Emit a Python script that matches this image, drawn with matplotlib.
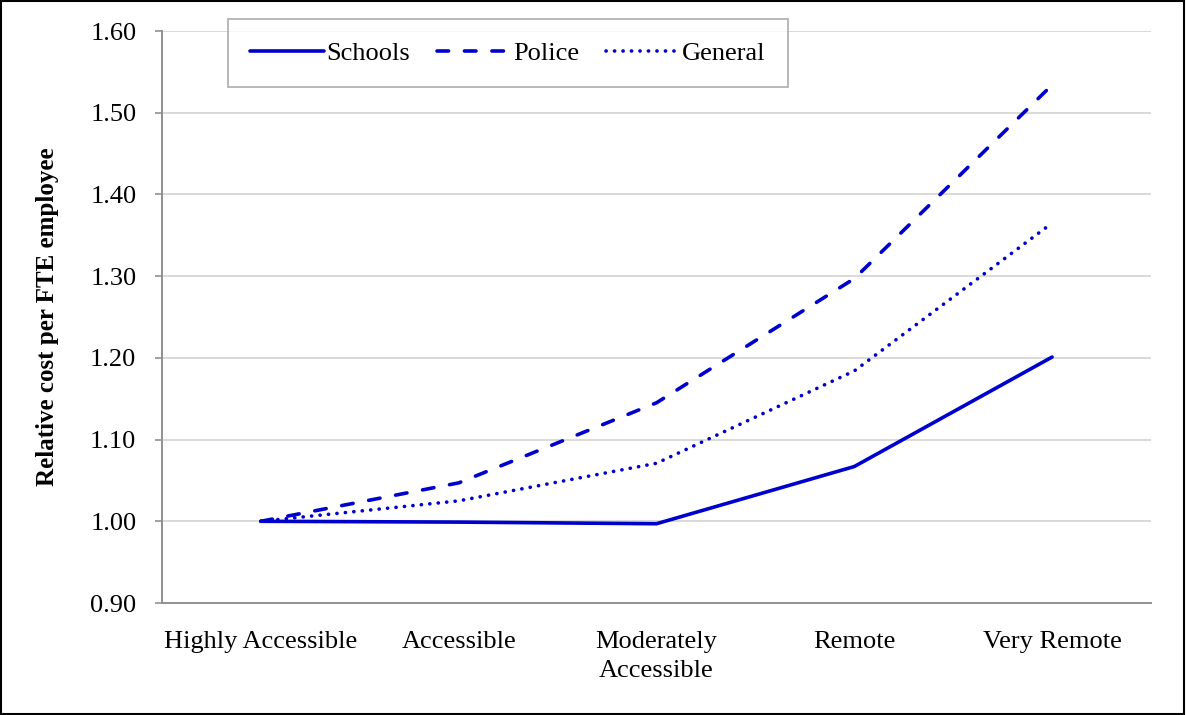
import matplotlib
matplotlib.use("Agg")
import matplotlib.pyplot as plt
from matplotlib.patches import Rectangle

categories = ["Highly Accessible", "Accessible", "Moderately\nAccessible", "Remote", "Very Remote"]
schools = [1.000, 0.999, 0.997, 1.067, 1.201]
police = [1.000, 1.047, 1.145, 1.297, 1.534]
general = [1.000, 1.025, 1.071, 1.184, 1.365]
yticks = [0.90, 1.00, 1.10, 1.20, 1.30, 1.40, 1.50, 1.60]

plt.rcParams["font.family"] = ["Liberation Serif", "DejaVu Serif"]

W, H = 1186, 715
fig = plt.figure(figsize=(W / 100, H / 100), dpi=100)
ax = fig.add_axes([162 / W, 1 - 603 / H, (1151 - 162) / W, (603 - 31) / H])

color = "#0000CC"
x = list(range(len(categories)))
ax.plot(x, schools, color=color, lw=2.6, solid_capstyle="round", label="Schools")
ax.plot(x, police, color=color, lw=2.6, linestyle=(0, (3.2, 4.4)),
        dash_capstyle="round", label="Police")
ax.plot(x, general, color=color, lw=2.6, linestyle=(0, (0.05, 2.3)),
        dash_capstyle="round", label="General")

ax.set_xlim(-0.5, len(categories) - 0.5)
ax.set_ylim(0.90, 1.60)
ax.set_yticks(yticks)
ax.set_yticklabels([f"{v:.2f}" for v in yticks], fontsize=19)
ax.set_xticks(x)
ax.set_xticklabels(categories, fontsize=19, linespacing=1.4)
ax.tick_params(axis="x", length=0, pad=20)
ax.tick_params(axis="y", length=5, width=1.2, color="#909090", pad=13.5)

ax.grid(axis="y", color="#D9D9D9", lw=1.4)
ax.set_axisbelow(True)
for side in ["top", "right"]:
    ax.spines[side].set_visible(False)
for side in ["left", "bottom"]:
    ax.spines[side].set_color("#909090")
    ax.spines[side].set_linewidth(1.4)

ax.set_ylabel("Relative cost per FTE employee", fontsize=18, fontweight="bold",
              labelpad=22)

leg = fig.legend(loc="upper left", bbox_to_anchor=(228 / W, 1 - 19 / H), ncol=3,
                 fontsize=19, frameon=True, fancybox=False, handlelength=2.77,
                 handletextpad=0.12, columnspacing=1.0, borderpad=0.85,
                 borderaxespad=0)
leg.get_frame().set_edgecolor("#A6A6A6")
leg.get_frame().set_linewidth(1.4)

fig.patches.append(Rectangle((0.001, 0.001), 0.997, 0.997, transform=fig.transFigure,
                             fill=False, edgecolor="black", lw=1.5))

fig.savefig("out.png", dpi=100)
